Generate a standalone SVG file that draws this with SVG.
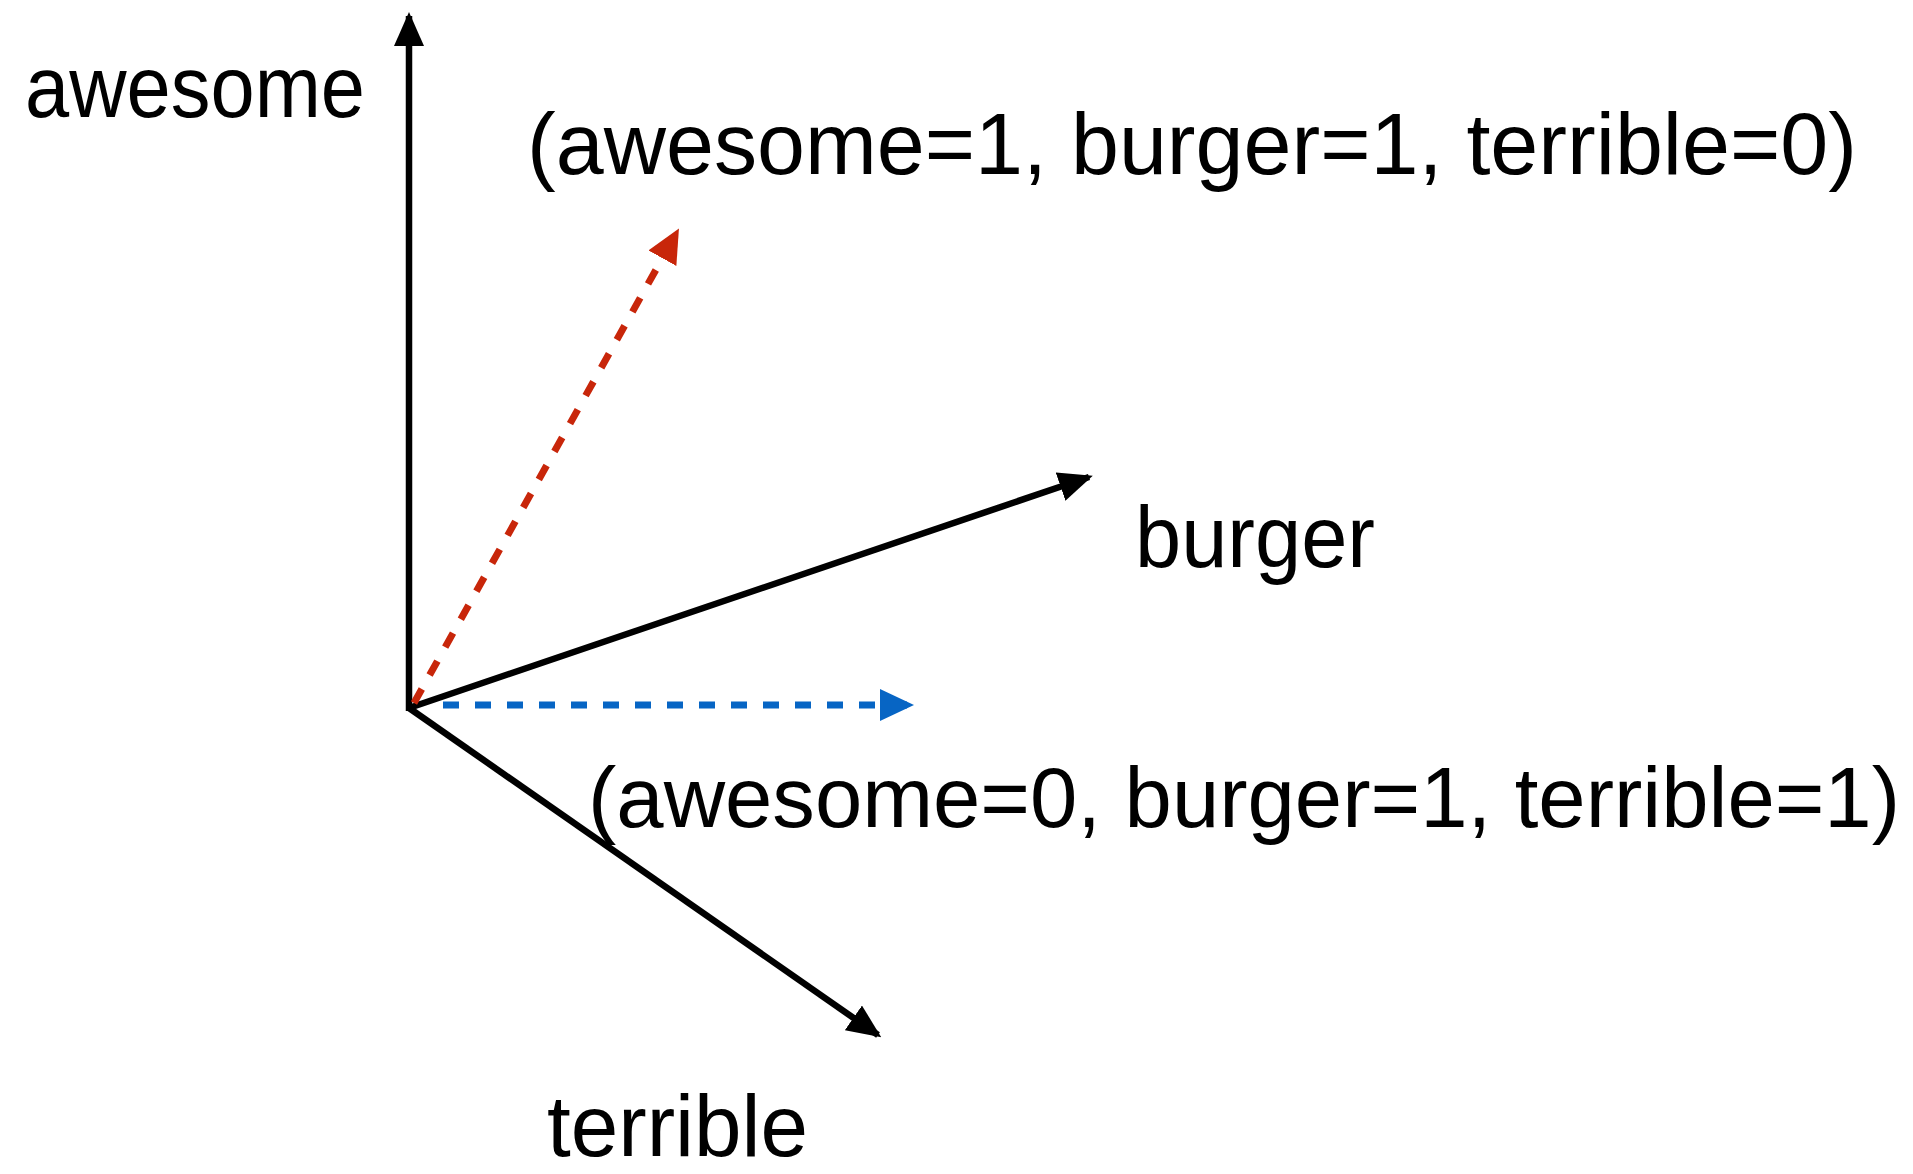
<svg xmlns="http://www.w3.org/2000/svg" width="1913" height="1174" viewBox="0 0 1913 1174">
<style>
text{font-family:"Liberation Sans",Arial,sans-serif;font-size:88px;fill:#000}
.ax{stroke:#000;stroke-width:6.5;fill:none}
.red{stroke:#C8260A;stroke-width:7;fill:none;stroke-dasharray:16 16}
.blue{stroke:#0765C4;stroke-width:7;fill:none;stroke-dasharray:16 16}
</style>
<defs>
<marker id="ab" viewBox="0 0 34 30" refX="30" refY="15" markerWidth="34" markerHeight="30" markerUnits="userSpaceOnUse" orient="auto"><path d="M0,0 L34,15 L0,30 Z" fill="#000"/></marker>
<marker id="ar" viewBox="0 0 34 32" refX="30" refY="16" markerWidth="34" markerHeight="32" markerUnits="userSpaceOnUse" orient="auto"><path d="M0,0 L34,16 L0,32 Z" fill="#C8260A"/></marker>
<marker id="abl" viewBox="0 0 34 32" refX="30" refY="16" markerWidth="34" markerHeight="32" markerUnits="userSpaceOnUse" orient="auto"><path d="M0,0 L34,16 L0,32 Z" fill="#0765C4"/></marker>
</defs>
<g id="connectors">
<line class="ax" x1="409" y1="711" x2="409" y2="16" marker-end="url(#ab)"/>
<line class="ax" x1="409" y1="708" x2="1089" y2="477" marker-end="url(#ab)"/>
<line class="ax" x1="409" y1="708" x2="878" y2="1035" marker-end="url(#ab)"/>
<line class="red" x1="414" y1="703" x2="677" y2="232" marker-end="url(#ar)"/>
<line class="blue" x1="443" y1="705" x2="910" y2="705" marker-end="url(#abl)"/>
</g>
<g id="label-awesome"><text x="25" y="117" textLength="340" lengthAdjust="spacingAndGlyphs">awesome</text></g>
<g id="label-burger"><text x="1135" y="567" textLength="240" lengthAdjust="spacingAndGlyphs">burger</text></g>
<g id="label-terrible"><text x="547" y="1156" textLength="261" lengthAdjust="spacingAndGlyphs">terrible</text></g>
<g id="label-vec1"><text x="527" y="174" textLength="1330" lengthAdjust="spacingAndGlyphs">(awesome=1, burger=1, terrible=0)</text></g>
<g id="label-vec2"><text x="588" y="827" font-size="85" style="font-size:85px" textLength="1312" lengthAdjust="spacingAndGlyphs">(awesome=0, burger=1, terrible=1)</text></g>
</svg>
